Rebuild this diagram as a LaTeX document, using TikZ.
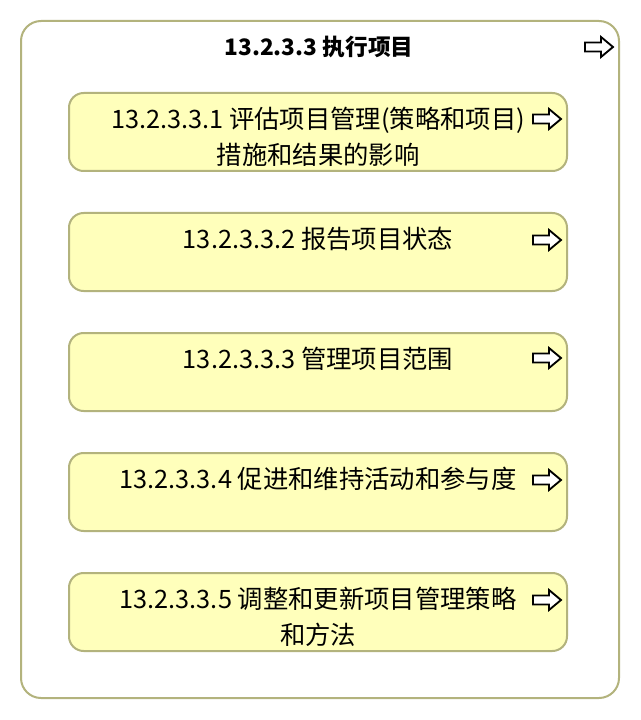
\documentclass[tikz,border=0pt]{standalone}
\usepackage{fontspec}
\setmainfont{Noto Sans CJK SC}
\usetikzlibrary{positioning}
\definecolor{boxfill}{HTML}{FFFFBB}
\definecolor{boxline}{HTML}{B3B37D}
\tikzset{
  stepbox/.style={draw=boxline, fill=boxfill, line width=1.5pt,
    rounded corners=11pt, minimum width=373.5pt, minimum height=58.5pt,
    inner sep=0pt},
  steptext/.style={anchor=north, align=center, inner sep=0pt,
    font=\fontsize{19}{27}\selectfont},
  goarrow/.pic={
    \draw[line width=1.4pt, fill=white, line join=miter]
      (-14,-4.5) -- (2,-4.5) -- (2,-10) -- (14,0) -- (2,10) -- (2,4.5)
      -- (-14,4.5) -- cycle;}
}
\begin{document}
\begin{tikzpicture}[x=0.75pt, y=-0.75pt]
  \useasboundingbox (0,0) rectangle (640,720);
  % outer frame
  \node[draw=boxline, fill=white, line width=1.5pt, rounded corners=15pt,
    minimum width=448.5pt, minimum height=507.75pt, inner sep=0pt]
    (frame) at (320,359.5) {};
  \node[font=\bfseries\fontsize{17}{20}\selectfont, inner sep=0pt]
    (title) at (319,47) {13.2.3.3 执行项目};
  \pic at (599,47) {goarrow};
  % steps
  \node[stepbox] (b1) at (318,132) {};
  \node[stepbox] (b2) at (318,252) {};
  \node[stepbox] (b3) at (318,372) {};
  \node[stepbox] (b4) at (318,492) {};
  \node[stepbox] (b5) at (318,612) {};
  \node[steptext, below=11pt of b1.north] (t1)
    {13.2.3.3.1 评估项目管理(策略和项目)\\措施和结果的影响};
  \node[steptext, below=11pt of b2.north] (t2) {13.2.3.3.2 报告项目状态};
  \node[steptext, below=11pt of b3.north] (t3) {13.2.3.3.3 管理项目范围};
  \node[steptext, below=11pt of b4.north] (t4) {13.2.3.3.4 促进和维持活动和参与度};
  \node[steptext, below=11pt of b5.north] (t5)
    {13.2.3.3.5 调整和更新项目管理策略\\和方法};
  \foreach \y in {119,240,358,480,600}
    \pic at (547,\y) {goarrow};
\end{tikzpicture}
\end{document}
